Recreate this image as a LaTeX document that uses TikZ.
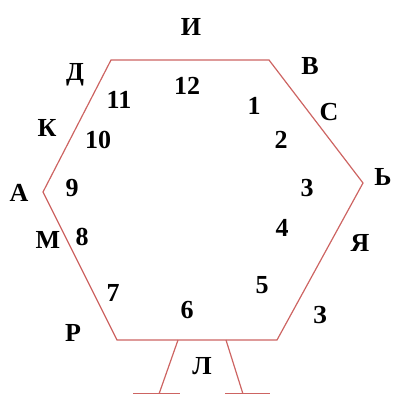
\documentclass[tikz,border=0pt]{standalone}
\usepackage{fontspec}
\setmainfont{Liberation Serif}
\definecolor{edge}{RGB}{205,100,98}
\begin{document}
\begin{tikzpicture}[x=1pt,y=-1pt,
  hexline/.style={draw=edge,line width=1.2pt},
  lbl/.style={font=\bfseries\fontsize{26}{26}\selectfont,inner sep=0pt},
  num/.style={font=\bfseries\fontsize{26}{26}\selectfont,inner sep=0pt}]
\useasboundingbox (0,0) rectangle (392,394);
% hexagon vertices
\coordinate (tl) at (111,60);
\coordinate (tr) at (269,60);
\coordinate (r) at (363,183);
\coordinate (br) at (277,340);
\coordinate (bl) at (117,340);
\coordinate (l) at (43,192);
\draw[hexline] (tl) -- (tr) -- (r) -- (br) -- (bl) -- (l) -- cycle;
% stand
\coordinate (sl1) at (178,340);
\coordinate (sl2) at (159,394);
\coordinate (sr1) at (226,340);
\coordinate (sr2) at (243,394);
\coordinate (bl1) at (133,394);
\coordinate (bl2) at (180,394);
\coordinate (br1) at (225,394);
\coordinate (br2) at (270,394);
\draw[hexline] (sl1) -- (sl2);
\draw[hexline] (sr1) -- (sr2);
\draw[hexline] (bl1) -- (bl2);
\draw[hexline] (br1) -- (br2);
% letters
\node[lbl] (I) at (191,27) {И};
\node[lbl] (D) at (75,75) {Д};
\node[lbl] (V) at (310,66) {В};
\node[lbl] (S) at (329,112) {С};
\node[lbl] (K) at (47,128) {К};
\node[lbl] (A) at (19,193) {А};
\node[lbl] (Mz) at (383,177) {Ь};
\node[lbl] (M) at (48,240) {М};
\node[lbl] (Ya) at (360,243) {Я};
\node[lbl] (R) at (73,333) {Р};
\node[lbl] (Z) at (320,315) {З};
\node[lbl] (L) at (202,366) {Л};
% numbers
\node[num] (n12) at (187,86) {12};
\node[num] (n11) at (119,100) {11};
\node[num] (n1) at (254,106) {1};
\node[num] (n10) at (98,140) {10};
\node[num] (n2) at (281,140) {2};
\node[num] (n9) at (72,188) {9};
\node[num] (n3) at (307,188) {3};
\node[num] (n8) at (82,237) {8};
\node[num] (n4) at (282,228) {4};
\node[num] (n7) at (113,293) {7};
\node[num] (n5) at (262,285) {5};
\node[num] (n6) at (187,310) {6};
\end{tikzpicture}
\end{document}
